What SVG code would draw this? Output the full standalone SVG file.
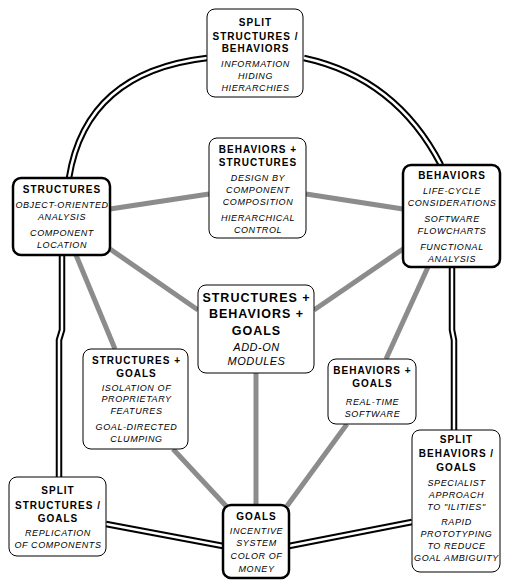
<svg xmlns="http://www.w3.org/2000/svg" width="509" height="584" viewBox="0 0 509 584">
<style>
.box{fill:#fff;stroke:#000;stroke-width:1}
.thick{fill:#fff;stroke:#000;stroke-width:2.5}
.b{font-family:"Liberation Sans",Arial,sans-serif;font-weight:bold;font-size:10px;letter-spacing:1px;text-anchor:middle;fill:#000}
.i{font-family:"Liberation Sans",Arial,sans-serif;font-style:italic;font-size:9px;letter-spacing:0.6px;text-anchor:middle;fill:#000}
.bl{font-family:"Liberation Sans",Arial,sans-serif;font-weight:bold;font-size:12.5px;letter-spacing:1px;text-anchor:middle;fill:#000}
.il{font-family:"Liberation Sans",Arial,sans-serif;font-style:italic;font-size:11px;letter-spacing:0.5px;text-anchor:middle;fill:#000}
.gray{fill:none;stroke:#8c8c8c;stroke-width:5}
.dblo{fill:none;stroke:#000;stroke-width:6.5}
.dbli{fill:none;stroke:#fff;stroke-width:2.5}
</style>
<g id="connectors">
<g id="double-outer">
<path class="dblo" d="M207,58 Q86,72 69,178"/>
<path class="dblo" d="M304,58 Q396,78 441,165"/>
<path class="dblo" d="M62,255 L62,330 L59,340 L59,477"/>
<path class="dblo" d="M452,267 L452,330 L454,340 L454,430"/>
<path class="dblo" d="M106,524 L223,546"/>
<path class="dblo" d="M289,546 L412,522"/>
</g>
<g id="double-inner">
<path class="dbli" d="M207,58 Q86,72 69,178"/>
<path class="dbli" d="M304,58 Q396,78 441,165"/>
<path class="dbli" d="M62,255 L62,330 L59,340 L59,477"/>
<path class="dbli" d="M452,267 L452,330 L454,340 L454,430"/>
<path class="dbli" d="M106,524 L223,546"/>
<path class="dbli" d="M289,546 L412,522"/>
</g>
<g id="gray-links">
<line class="gray" x1="110" y1="209" x2="209" y2="194"/>
<line class="gray" x1="306" y1="194" x2="403" y2="209"/>
<line class="gray" x1="110" y1="249" x2="198" y2="310"/>
<line class="gray" x1="403" y1="249" x2="314" y2="310"/>
<line class="gray" x1="76" y1="255" x2="115" y2="349"/>
<line class="gray" x1="428" y1="267" x2="386" y2="359"/>
<line class="gray" x1="256" y1="372" x2="256" y2="505"/>
<line class="gray" x1="173" y1="449" x2="226" y2="506"/>
<line class="gray" x1="347" y1="424" x2="287" y2="506"/>
</g>
</g>
<g id="split-structures-behaviors">
<rect class="box" x="207" y="9" width="96" height="88" rx="8"/>
<text class="b" x="255.5" y="25.5">SPLIT</text>
<text class="b" x="255.5" y="39.6">STRUCTURES /</text>
<text class="b" x="255.5" y="52">BEHAVIORS</text>
<text class="i" x="255.5" y="66.6">INFORMATION</text>
<text class="i" x="255.5" y="78.6">HIDING</text>
<text class="i" x="255.5" y="91">HIERARCHIES</text>
</g>
<g id="behaviors-structures">
<rect class="box" x="209" y="138" width="97" height="100" rx="8"/>
<text class="b" x="258" y="153.3">BEHAVIORS +</text>
<text class="b" x="258" y="166">STRUCTURES</text>
<text class="i" x="258" y="180.6">DESIGN BY</text>
<text class="i" x="258" y="192.6">COMPONENT</text>
<text class="i" x="258" y="204.6">COMPOSITION</text>
<text class="i" x="258" y="220.7">HIERARCHICAL</text>
<text class="i" x="258" y="232.8">CONTROL</text>
</g>
<g id="structures">
<rect class="thick" x="13" y="178" width="97" height="77" rx="8"/>
<text class="b" x="62" y="193.4">STRUCTURES</text>
<text class="i" x="62" y="207.6">OBJECT-ORIENTED</text>
<text class="i" x="62" y="219.6">ANALYSIS</text>
<text class="i" x="62" y="236.1">COMPONENT</text>
<text class="i" x="62" y="248.1">LOCATION</text>
</g>
<g id="behaviors">
<rect class="thick" x="403" y="165" width="97" height="102" rx="8"/>
<text class="b" x="452" y="179.1">BEHAVIORS</text>
<text class="i" x="452" y="193.7">LIFE-CYCLE</text>
<text class="i" x="452" y="205.7">CONSIDERATIONS</text>
<text class="i" x="452" y="221.9">SOFTWARE</text>
<text class="i" x="452" y="233.5">FLOWCHARTS</text>
<text class="i" x="452" y="249.6">FUNCTIONAL</text>
<text class="i" x="452" y="261.6">ANALYSIS</text>
</g>
<g id="structures-behaviors-goals">
<rect class="box" x="198" y="285" width="116" height="88" rx="8"/>
<text class="bl" x="256.5" y="302">STRUCTURES +</text>
<text class="bl" x="256.5" y="318">BEHAVIORS +</text>
<text class="bl" x="256.5" y="334.5">GOALS</text>
<text class="il" x="256.5" y="350.6">ADD-ON</text>
<text class="il" x="256.5" y="364.5">MODULES</text>
</g>
<g id="structures-goals">
<rect class="box" x="83" y="349" width="105" height="100" rx="8"/>
<text class="b" x="136.5" y="364.1">STRUCTURES +</text>
<text class="b" x="136.5" y="376.8">GOALS</text>
<text class="i" x="136.5" y="390.7">ISOLATION OF</text>
<text class="i" x="136.5" y="402.2">PROPRIETARY</text>
<text class="i" x="136.5" y="413.9">FEATURES</text>
<text class="i" x="136.5" y="430.1">GOAL-DIRECTED</text>
<text class="i" x="136.5" y="442.1">CLUMPING</text>
</g>
<g id="behaviors-goals">
<rect class="box" x="328" y="359" width="88" height="65" rx="8"/>
<text class="b" x="372.5" y="373.8">BEHAVIORS +</text>
<text class="b" x="372.5" y="386.9">GOALS</text>
<text class="i" x="372.5" y="405.2">REAL-TIME</text>
<text class="i" x="372.5" y="416.9">SOFTWARE</text>
</g>
<g id="split-behaviors-goals">
<rect class="box" x="412" y="430" width="88" height="142" rx="8"/>
<text class="b" x="456.5" y="443.2">SPLIT</text>
<text class="b" x="456.5" y="456.7">BEHAVIORS /</text>
<text class="b" x="456.5" y="470.6">GOALS</text>
<text class="i" x="456.5" y="485.9">SPECIALIST</text>
<text class="i" x="456.5" y="498">APPROACH</text>
<text class="i" x="456.5" y="510">TO &quot;ILITIES&quot;</text>
<text class="i" x="456.5" y="524.6">RAPID</text>
<text class="i" x="456.5" y="536.6">PROTOTYPING</text>
<text class="i" x="456.5" y="548.6">TO REDUCE</text>
<text class="i" x="456.5" y="561">GOAL AMBIGUITY</text>
</g>
<g id="split-structures-goals">
<rect class="box" x="9" y="477" width="97" height="79" rx="8"/>
<text class="b" x="58" y="494.2">SPLIT</text>
<text class="b" x="58" y="508.5">STRUCTURES /</text>
<text class="b" x="58" y="521.6">GOALS</text>
<text class="i" x="58" y="535.8">REPLICATION</text>
<text class="i" x="58" y="547.8">OF COMPONENTS</text>
</g>
<g id="goals">
<rect class="thick" x="223" y="505" width="66" height="73" rx="8"/>
<text class="b" x="256.5" y="520.1">GOALS</text>
<text class="i" x="256.5" y="534">INCENTIVE</text>
<text class="i" x="256.5" y="546">SYSTEM</text>
<text class="i" x="256.5" y="559.1">COLOR OF</text>
<text class="i" x="256.5" y="571.5">MONEY</text>
</g>
</svg>
